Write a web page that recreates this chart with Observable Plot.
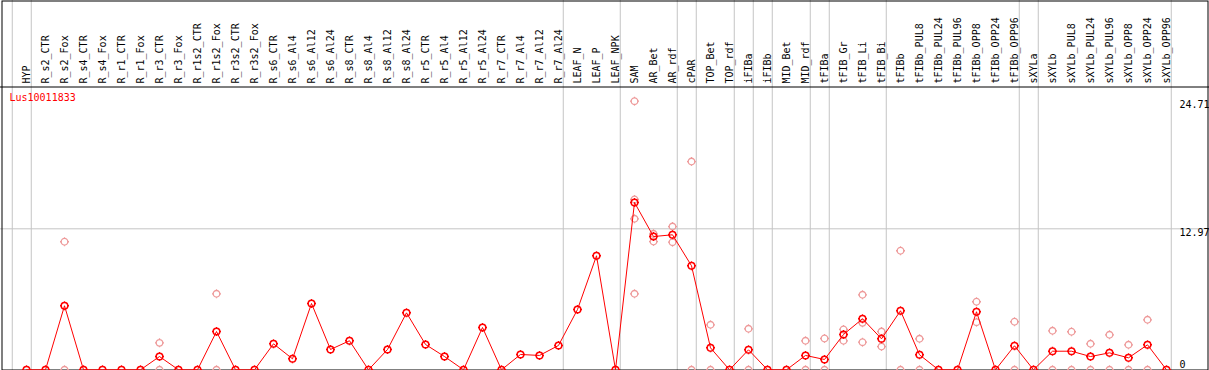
<!DOCTYPE html>
<html>
<head>
<meta charset="utf-8">
<script src="https://cdn.jsdelivr.net/npm/d3@7"></script>
<script src="https://cdn.jsdelivr.net/npm/@observablehq/plot@0.6"></script>
<style>
  html, body { margin: 0; padding: 0; background: #fff; }
  #chart svg { display: block; }
</style>
</head>
<body>
<div id="chart"></div>
<script>
// ---- data ----
const geneName = "Lus10011833";

const categories = [
  "HYP","R_s2_CTR","R_s2_Fox","R_s4_CTR","R_s4_Fox","R_r1_CTR","R_r1_Fox","R_r3_CTR","R_r3_Fox",
  "R_r1s2_CTR","R_r1s2_Fox","R_r3s2_CTR","R_r3s2_Fox","R_s6_CTR","R_s6_Al4","R_s6_Al12","R_s6_Al24",
  "R_s8_CTR","R_s8_Al4","R_s8_Al12","R_s8_Al24","R_r5_CTR","R_r5_Al4","R_r5_Al12","R_r5_Al24",
  "R_r7_CTR","R_r7_Al4","R_r7_Al12","R_r7_Al24","LEAF_N","LEAF_P","LEAF_NPK","SAM","AR_Bet","AR_rdf",
  "cPAR","TOP_Bet","TOP_rdf","iFIBa","iFIBb","MID_Bet","MID_rdf","tFIBa","tFIB_Gr","tFIB_Li","tFIB_Bi",
  "tFIBb","tFIBb_PUL8","tFIBb_PUL24","tFIBb_PUL96","tFIBb_OPP8","tFIBb_OPP24","tFIBb_OPP96",
  "sXYLa","sXYLb","sXYLb_PUL8","sXYLb_PUL24","sXYLb_PUL96","sXYLb_OPP8","sXYLb_OPP24","sXYLb_OPP96"
];

const meanValues = [
  0, 0, 5.89, 0, 0, 0, 0, 1.22, 0,
  0, 3.52, 0, 0, 2.39, 1.01, 6.10, 1.87,
  2.67, 0, 1.87, 5.24, 2.33, 1.22, 0, 3.89,
  0, 1.41, 1.32, 2.24, 5.55, 10.49, 0, 15.39, 12.26, 12.42,
  9.57, 2.02, 0, 1.84, 0, 0, 1.32, 0.95, 3.25, 4.69, 2.85,
  5.43, 1.38, 0, 0, 5.34, 0, 2.21,
  0, 1.71, 1.71, 1.22, 1.56, 1.10, 2.30, 0
];

// replicate values per category (empty where none are visible apart from the mean)
const replicateValues = [
  [], [], [11.78, 0], [], [], [], [], [2.48, 0], [],
  [], [6.99, 0], [], [], [], [], [], [],
  [], [], [], [], [], [], [], [],
  [], [], [], [], [], [], [], [24.71, 15.67, 13.89, 6.99], [12.51, 11.80], [13.18, 11.74],
  [19.16, 0], [4.14, 0], [], [3.77, 0], [], [], [2.67, 0], [2.88, 0], [3.71, 2.67], [6.90, 4.32, 2.54], [3.52, 2.14],
  [10.95, 0], [2.85, 0], [], [], [6.26, 4.38], [], [4.42, 0],
  [], [3.59, 0], [3.50, 0], [2.39, 0], [3.22, 0], [2.30, 0], [4.60, 0], []
];

const yTickValues = [0, 12.97, 24.71];
const yTickLabels = ["0", "12.97", "24.71"];
const yGridValues = [12.97];

// group separators: a line is drawn after each of these categories (null = before the first)
const groupEnds = [null, "HYP", "R_r7_Al24", "LEAF_NPK", "AR_rdf", "cPAR", "TOP_rdf", "iFIBa", "iFIBb",
  "MID_rdf", "tFIBa", "tFIB_Bi", "tFIBb_OPP96", "sXYLa", "sXYLb_OPP96"];

// ---- derived tables ----
const means = categories.map((c, i) => ({i, c, v: meanValues[i]}));
const reps = categories.flatMap((c, i) => replicateValues[i].map(v => ({i, c, v})));
const separators = groupEnds.map(c => (c === null ? -1 : categories.indexOf(c)) + 0.25);

const W = 1209, H = 370;
const yBottomPx = 369.3, yTopPx = 100.7, yMax = 24.71;
const headerValue = (yBottomPx - 86.5) / ((yBottomPx - yTopPx) / yMax);

const FONT = "'DejaVu Sans Mono', monospace";

// circle with four small ticks
function tickCircle(r, t) {
  return {
    draw(ctx) {
      ctx.moveTo(r, 0);
      ctx.arc(0, 0, r, 0, 2 * Math.PI);
      ctx.moveTo(0, -r); ctx.lineTo(0, -r - t);
      ctx.moveTo(0, r); ctx.lineTo(0, r + t);
      ctx.moveTo(-r, 0); ctx.lineTo(-r - t, 0);
      ctx.moveTo(r, 0); ctx.lineTo(r + t, 0);
    }
  };
}

const chart = Plot.plot({
  width: W,
  height: H,
  margin: 0,
  style: {background: "#fff", fontFamily: FONT, fontSize: "10px", overflow: "visible"},
  x: {type: "linear", domain: [0, categories.length - 1], range: [26, 26 + 19 * (categories.length - 1)], axis: null},
  y: {type: "linear", domain: [0, yMax], range: [yBottomPx, yTopPx], axis: null},
  marks: [
    Plot.ruleX(separators, {x: d => d, stroke: "#c4c4c4", strokeWidth: 1}),
    Plot.ruleY(yGridValues, {y: d => d, stroke: "#c4c4c4", strokeWidth: 1}),
    Plot.ruleY([headerValue], {y: d => d, stroke: "#000", strokeWidth: 1}),
    Plot.frame({stroke: "#000", strokeWidth: 1, insetLeft: 1.5, insetRight: 1.5, insetTop: 0.5, insetBottom: 0.5}),
    Plot.text(categories, {
      x: (d, i) => i, text: d => d, rotate: -90, textAnchor: "start",
      frameAnchor: "top", dy: 83, dx: -3.5, fill: "#000", fontFamily: FONT, fontSize: 10
    }),
    Plot.text([geneName], {frameAnchor: "top-left", dx: 9, dy: 93, lineAnchor: "top", text: d => d,
      fill: "#ff0000", fontFamily: FONT, fontSize: 10}),
    Plot.text(yTickValues.slice(1), {
      y: d => d, text: d => yTickLabels[yTickValues.indexOf(d)],
      frameAnchor: "right", dx: -30, textAnchor: "start", lineAnchor: "top",
      fill: "#000", fontFamily: FONT, fontSize: 10
    }),
    Plot.text(yTickValues.slice(0, 1), {
      y: d => d, text: d => yTickLabels[yTickValues.indexOf(d)],
      frameAnchor: "right", dx: -30, textAnchor: "start", lineAnchor: "bottom", dy: -2,
      fill: "#000", fontFamily: FONT, fontSize: 10
    }),
    Plot.dot(reps, {x: "i", y: "v", symbol: tickCircle(3.3, 1.2), r: 3.3, stroke: "#ee9a9a", strokeWidth: 1.3, fill: "none"}),
    Plot.line(means, {x: "i", y: "v", stroke: "#ff0000", strokeWidth: 1}),
    Plot.dot(means, {x: "i", y: "v", symbol: tickCircle(3.3, 1.2), r: 3.3, stroke: "#ff0000", strokeWidth: 1.5, fill: "none"})
  ]
});

document.getElementById("chart").appendChild(chart);
</script>
</body>
</html>
